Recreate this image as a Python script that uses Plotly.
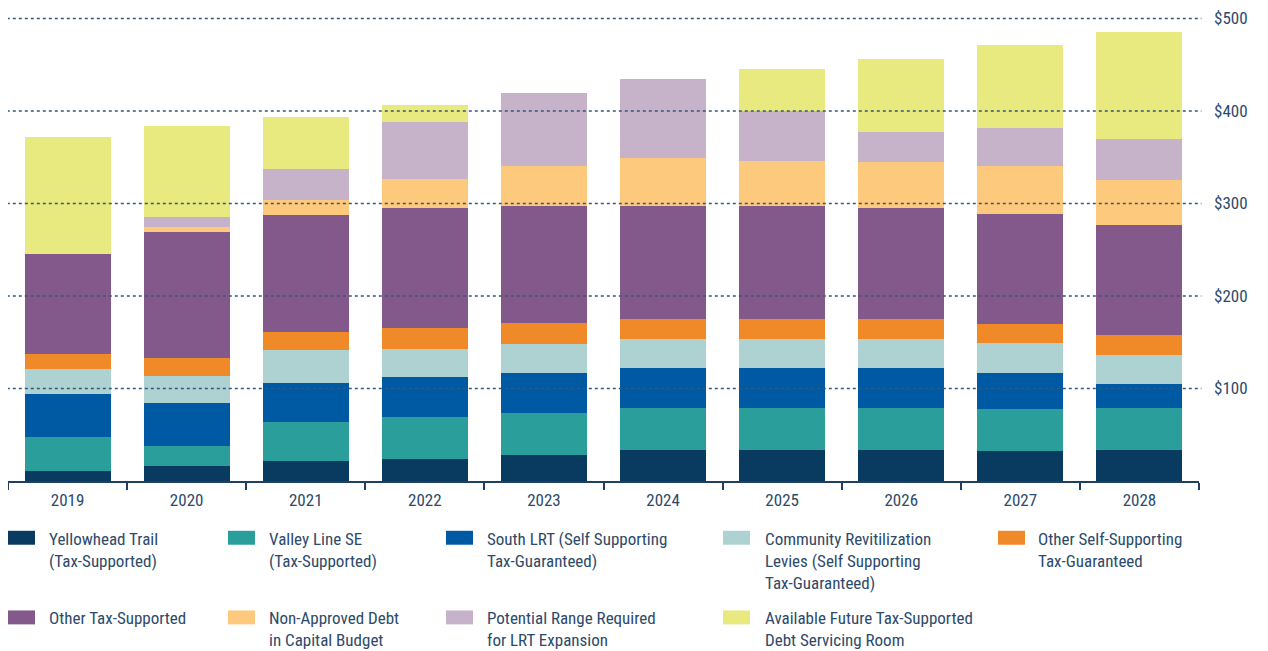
import plotly.graph_objects as go

years = ["2019", "2020", "2021", "2022", "2023", "2024", "2025", "2026", "2027", "2028"]

yellowhead_trail = [10.8, 16.1, 21.5, 23.7, 27.7, 33.1, 33.1, 33.1, 32.0, 33.1]
valley_line_se = [36.6, 21.5, 41.9, 45.2, 46.3, 46.3, 45.3, 45.3, 46.3, 46.3]
south_lrt = [46.2, 46.2, 43.0, 43.0, 43.1, 43.1, 44.2, 44.2, 38.8, 25.9]
community_levies = [28.0, 30.1, 35.5, 31.2, 31.3, 31.3, 31.3, 31.3, 32.3, 31.3]
other_self_supporting = [16.1, 19.4, 19.4, 22.6, 22.6, 21.6, 21.6, 21.6, 20.5, 21.6]
other_tax_supported = [107.5, 135.5, 125.8, 129.0, 126.1, 121.8, 121.8, 119.6, 118.5, 118.5]
non_approved_debt = [0.0, 5.4, 17.2, 32.3, 43.1, 51.7, 48.5, 49.6, 51.7, 48.5]
lrt_expansion = [0.0, 10.8, 33.3, 61.3, 79.7, 86.2, 54.6, 32.3, 42.0, 44.2]
future_room = [126.9, 98.9, 55.9, 18.3, 0.0, 0.0, 44.5, 79.7, 89.4, 116.4]

y_tick_values = [100, 200, 300, 400, 500]
y_tick_labels = ["$100", "$200", "$300", "$400", "$500"]

series = [
    ("Yellowhead Trail<br>(Tax-Supported)", yellowhead_trail, "#093a5f"),
    ("Valley Line SE<br>(Tax-Supported)", valley_line_se, "#2a9e9a"),
    ("South LRT (Self Supporting<br>Tax-Guaranteed)", south_lrt, "#005aa3"),
    ("Community Revitilization<br>Levies (Self Supporting<br>Tax-Guaranteed)", community_levies, "#aed1d2"),
    ("Other Self-Supporting<br>Tax-Guaranteed", other_self_supporting, "#f08a28"),
    ("Other Tax-Supported", other_tax_supported, "#83598c"),
    ("Non-Approved Debt<br>in Capital Budget", non_approved_debt, "#fdc97c"),
    ("Potential Range Required<br>for LRT Expansion", lrt_expansion, "#c6b3ca"),
    ("Available Future Tax-Supported<br>Debt Servicing Room", future_room, "#e8e97f"),
]

FONT = "Liberation Sans Narrow, Roboto Condensed, Arial Narrow, DejaVu Sans Condensed, sans-serif"
TXT = "#2c4a6b"

# the page body adds an 8px offset; work in reference pixel coords and shift
OFF = 8
W, H = 1268 - OFF, 651 - OFF
L, R = 8, 1199          # plot area left/right in reference px
T, B = 12, 481          # plot area top/bottom in reference px
pw, ph = R - L, B - T
px_per_unit = (B - 16.5) / 500.0
ymax = ph / px_per_unit

fig = go.Figure()
for name, vals, color in series:
    fig.add_trace(go.Bar(x=years, y=vals, name=name, marker=dict(color=color, line=dict(width=0)),
                         showlegend=False))

shapes = []
for v in y_tick_values:
    shapes.append(dict(type="line", xref="paper", yref="y", x0=-0.001, x1=1.002, y0=v, y1=v,
                       line=dict(color="#35577a", width=1.6, dash="dot"), layer="above"))


def px_x(p):
    return (p - L) / pw


def px_y(p):
    return (B - p) / ph


sw_x = [8, 228, 446, 723, 998]
tx_x = [47, 267, 485, 763, 1036]
row_sw_top = [531, 611]
annotations = []
for i, (name, vals, color) in enumerate(series):
    row = 0 if i < 5 else 1
    col = i if i < 5 else i - 5
    sx = sw_x[col]
    sy = row_sw_top[row]
    shapes.append(dict(type="rect", xref="paper", yref="paper",
                       x0=px_x(sx), x1=px_x(sx + 27), y0=px_y(sy), y1=px_y(sy + 14),
                       fillcolor=color, line=dict(width=0)))
    annotations.append(dict(xref="paper", yref="paper", x=px_x(tx_x[col]), y=px_y(sy - 4),
                            xanchor="left", yanchor="top", align="left", showarrow=False,
                            text=name, font=dict(family=FONT, size=17, color=TXT)))

fig.update_layout(
    width=W, height=H,
    margin=dict(l=L - OFF, r=1268 - R, t=T - OFF, b=651 - B, pad=0),
    barmode="stack",
    bargap=0.278,
    plot_bgcolor="white",
    paper_bgcolor="white",
    font=dict(family=FONT, size=17, color=TXT),
    shapes=shapes,
    annotations=annotations,
    xaxis=dict(
        showline=True, linecolor="#1f3f63", linewidth=1.5,
        ticks="outside", tickson="boundaries", ticklen=7, tickcolor="#1f3f63", tickwidth=1.5,
        showgrid=False, tickfont=dict(family=FONT, size=17, color=TXT),
        ticklabelstandoff=3,
        fixedrange=True,
    ),
    yaxis=dict(
        side="right", range=[0, ymax], tickvals=y_tick_values, ticktext=y_tick_labels,
        showgrid=False, zeroline=False, showline=False, ticks="",
        ticklabelstandoff=14, ticklabeloverflow="allow",
        tickfont=dict(family=FONT, size=17, color=TXT),
    ),
)

fig.write_html("out.html")
